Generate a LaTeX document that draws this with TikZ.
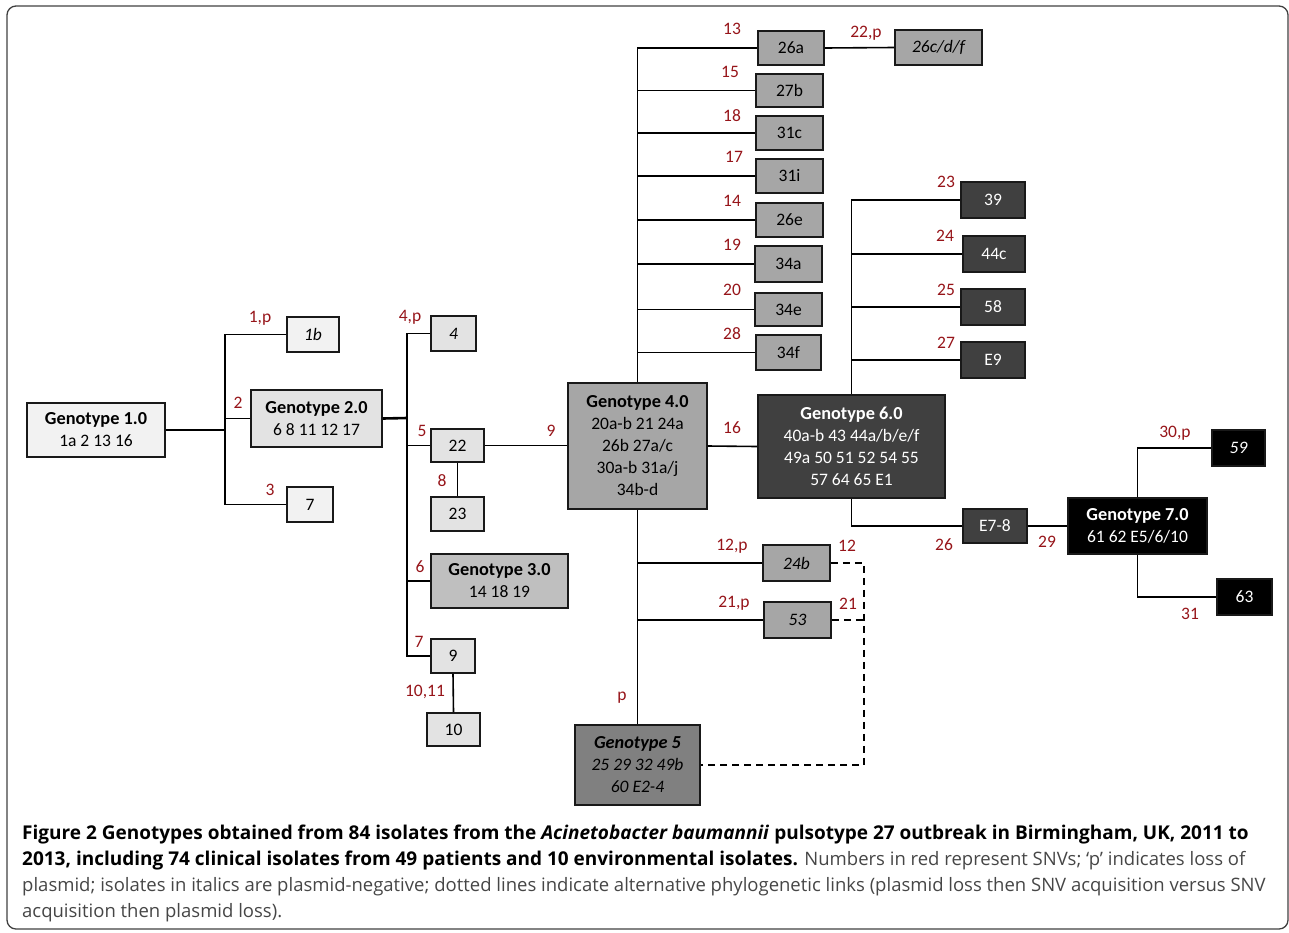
\documentclass[tikz,border=0pt]{standalone}
\usepackage{fontspec}
\setmainfont{Carlito}
\newfontfamily\capfont{Open Sans}
\definecolor{snv}{RGB}{150,20,25}
\definecolor{capgray}{RGB}{70,70,70}
\newcommand\gt[1]{{\fontsize{18.3}{22}\selectfont\bfseries #1}}
\newcommand\capb[1]{{\fontsize{19}{26}\selectfont\bfseries #1}}
\begin{document}
\begin{tikzpicture}[x=1pt,y=-1pt,
  box/.style={draw=black!90, line width=1.6pt, inner sep=0pt, align=center, font={\fontsize{17.5}{22}\selectfont}},
  ca/.style={box, fill=black!5},
  cb/.style={box, fill=black!11},
  cc/.style={box, fill=black!25},
  cd/.style={box, fill=black!35},
  ce/.style={box, fill=black!50},
  cf/.style={box, fill=black!75, text=white},
  cg/.style={box, fill=black, text=white},
  lab/.style={text=snv, inner sep=0pt, font={\fontsize{17.5}{18}\selectfont}},
  conn/.style={line width=1.6pt},
  alt/.style={line width=2.2pt, dash pattern=on 7pt off 5pt},
  capl/.style={anchor=base west, inner sep=0pt, font={\capfont\fontsize{18.5}{26}\selectfont}}
]
\useasboundingbox (0,0) rectangle (1289,932);
\draw[line width=1.3pt, rounded corners=9pt, black!75] (7,6) rectangle (1288,929);

% boxes
\node[ca, minimum width=138pt, minimum height=54pt] (g1) at (96,430) {\gt{Genotype 1.0}\\1a 2 13 16};
\node[ca, minimum width=52pt, minimum height=35pt] (b1b) at (313,334.5) {\itshape 1b};
\node[ca, minimum width=46pt, minimum height=35pt] (b7) at (310,504.5) {7};
\node[cb, minimum width=131pt, minimum height=57pt] (g2) at (316.5,418.5) {\gt{Genotype 2.0}\\6 8 11 12 17};
\node[cb, minimum width=45pt, minimum height=35pt] (b4) at (453.5,333.5) {\itshape 4};
\node[cb, minimum width=53pt, minimum height=33pt] (b22) at (457.5,445.5) {22};
\node[cb, minimum width=53pt, minimum height=34pt] (b23) at (457.5,514) {23};
\node[cc, minimum width=137pt, minimum height=54pt] (g3) at (499.5,581) {\gt{Genotype 3.0}\\14 18 19};
\node[cb, minimum width=44pt, minimum height=34pt] (b9) at (453,656) {9};
\node[cb, minimum width=53pt, minimum height=33pt] (b10) at (453.5,729.5) {10};
\node[cd, minimum width=139pt, minimum height=126pt] (g4) at (637.5,446) {\gt{Genotype 4.0}\\20a-b 21 24a\\26b 27a/c\\30a-b 31a/j\\34b-d};
\node[cd, minimum width=66pt, minimum height=34pt] (b26a) at (791,48) {26a};
\node[cd, minimum width=87pt, minimum height=35pt] (b26c) at (938.5,47.5) {\itshape 26c/d/f};
\node[cd, minimum width=67pt, minimum height=33pt] (b27b) at (789.5,90.5) {27b};
\node[cd, minimum width=67pt, minimum height=34pt] (b31c) at (789.5,133) {31c};
\node[cd, minimum width=67pt, minimum height=34pt] (b31i) at (789.5,176) {31i};
\node[cd, minimum width=67pt, minimum height=34pt] (b26e) at (789.5,220) {26e};
\node[cd, minimum width=67pt, minimum height=36pt] (b34a) at (788.5,264) {34a};
\node[cd, minimum width=67pt, minimum height=33pt] (b34e) at (788.5,309.5) {34e};
\node[cd, minimum width=65pt, minimum height=35pt] (b34f) at (788.5,352.5) {34f};
\node[cf, minimum width=187pt, minimum height=103pt] (g6) at (851.5,446.5) {\gt{Genotype 6.0}\\40a-b 43 44a/b/e/f\\49a 50 51 52 54 55\\57 64 65 E1};
\node[cf, minimum width=64pt, minimum height=36pt] (b39) at (993,200) {39};
\node[cf, minimum width=62pt, minimum height=36pt] (b44c) at (994,254) {44c};
\node[cf, minimum width=64pt, minimum height=36pt] (b58) at (993,307) {58};
\node[cf, minimum width=64pt, minimum height=36pt] (be9) at (993,360) {E9};
\node[cf, minimum width=64pt, minimum height=34pt] (be78) at (995,526) {E7-8};
\node[cg, minimum width=139pt, minimum height=56pt] (g7) at (1137.5,526) {\gt{Genotype 7.0}\\61 62 E5/6/10};
\node[cg, minimum width=53pt, minimum height=36pt] (b59) at (1238.5,448) {\itshape 59};
\node[cg, minimum width=55pt, minimum height=36pt] (b63) at (1244.5,597) {63};
\node[cd, minimum width=67pt, minimum height=36pt] (b24b) at (796.5,563) {\itshape 24b};
\node[cd, minimum width=67pt, minimum height=36pt] (b53) at (797.5,620) {\itshape 53};
\node[ce, minimum width=125pt, minimum height=80pt] (g5) at (637.5,765) {\itshape\gt{Genotype 5}\\\itshape 25 29 32 49b\\\itshape 60 E2-4};

% junctions
\coordinate (j1) at (225,430);
\coordinate (j2) at (407,418);
\coordinate (d1) at (864,563);

% connectors
\draw[conn] (g1.east) -- (j1);
\draw[conn] (b1b.west) -| (j1) |- (b7.west);
\draw[conn] (g2.west) -- (j1 |- g2.west);
\draw[line width=2.6pt] (g2.east) -- (j2);
\draw[conn] (b4.west) -| (j2) |- (b9.west);
\draw[conn] (b22.west) -- (j2 |- b22.west);
\draw[conn] (g3.west) -- (j2 |- g3.west);
\draw[conn] (b22.south) -- (b23.north);
\draw[conn] (b9.south) -- (b10.north);
\draw[conn] (b22.east) -- (b22.east -| g4.west);
\draw[conn] (g4.north) |- (b26a.west);
\draw[conn] (b26a.east) -- (b26c.west);
\foreach \b in {b27b,b31c,b31i,b26e,b34a,b34e,b34f}
  \draw[conn] (\b.west) -- (g4.north |- \b.west);
\draw[conn] (g4.east) -- (g6.west);
\draw[conn] (g6.north) |- (b39.west);
\foreach \b in {b44c,b58,be9}
  \draw[conn] (\b.west) -- (g6.north |- \b.west);
\draw[conn] (g6.south) |- (be78.west);
\draw[conn] (be78.east) -- (g7.west);
\draw[conn] (g7.north) |- (b59.west);
\draw[conn] (g7.south) |- (b63.west);
\draw[conn] (g4.south) -- (g5.north);
\draw[conn] (b24b.west) -- (g4.south |- b24b.west);
\draw[conn] (b53.west) -- (g4.south |- b53.west);
\draw[alt] (b24b.east) -- (b24b.east -| d1) |- (g5.east);
\draw[alt] (b53.east) -- (b53.east -| d1);

% SNV labels
\node[lab] (l1) at (260,318) {1,p};
\node[lab] (l2) at (238,403) {2};
\node[lab] (l3) at (270,490) {3};
\node[lab] (l4) at (410,317) {4,p};
\node[lab] (l5) at (422,431) {5};
\node[lab] (l8) at (442,481) {8};
\node[lab] (l6) at (420,567) {6};
\node[lab] (l7) at (419,642) {7};
\node[lab] (l1011) at (425,692) {10,11};
\node[lab] (l9) at (551,431) {9};
\node[lab] (l13) at (732,29) {13};
\node[lab] (l22) at (866,33) {22,p};
\node[lab] (l15) at (730,72) {15};
\node[lab] (l18) at (732,116) {18};
\node[lab] (l17) at (734,157) {17};
\node[lab] (l14) at (732,201) {14};
\node[lab] (l19) at (732,245) {19};
\node[lab] (l20) at (732,290) {20};
\node[lab] (l28) at (732,334) {28};
\node[lab] (l16) at (732,428) {16};
\node[lab] (l23) at (946,182) {23};
\node[lab] (l24) at (945,236) {24};
\node[lab] (l25) at (946,290) {25};
\node[lab] (l27) at (946,343) {27};
\node[lab] (l26) at (944,545) {26};
\node[lab] (l29) at (1047,542) {29};
\node[lab] (l30) at (1175,433) {30,p};
\node[lab] (l31) at (1190,614) {31};
\node[lab] (l12p) at (732,546) {12,p};
\node[lab] (l12) at (847,546) {12};
\node[lab] (l21p) at (734,603) {21,p};
\node[lab] (l21) at (848,604) {21};
\node[lab] (lp) at (622,698) {p};

% caption
\node[capl] (cap1) at (22,839) {\capb{Figure 2 Genotypes obtained from 84 isolates from the \textit{Acinetobacter baumannii} pulsotype 27 outbreak in Birmingham, UK, 2011 to}};
\node[capl] (cap2) at (22,865) {\capb{2013, including 74 clinical isolates from 49 patients and 10 environmental isolates.} \textcolor{capgray}{Numbers in red represent SNVs; ‘p’ indicates loss of}};
\node[capl, text=capgray] (cap3) at (22,891) {plasmid; isolates in italics are plasmid-negative; dotted lines indicate alternative phylogenetic links (plasmid loss then SNV acquisition versus SNV};
\node[capl, text=capgray] (cap4) at (22,917) {acquisition then plasmid loss).};
\end{tikzpicture}
\end{document}
